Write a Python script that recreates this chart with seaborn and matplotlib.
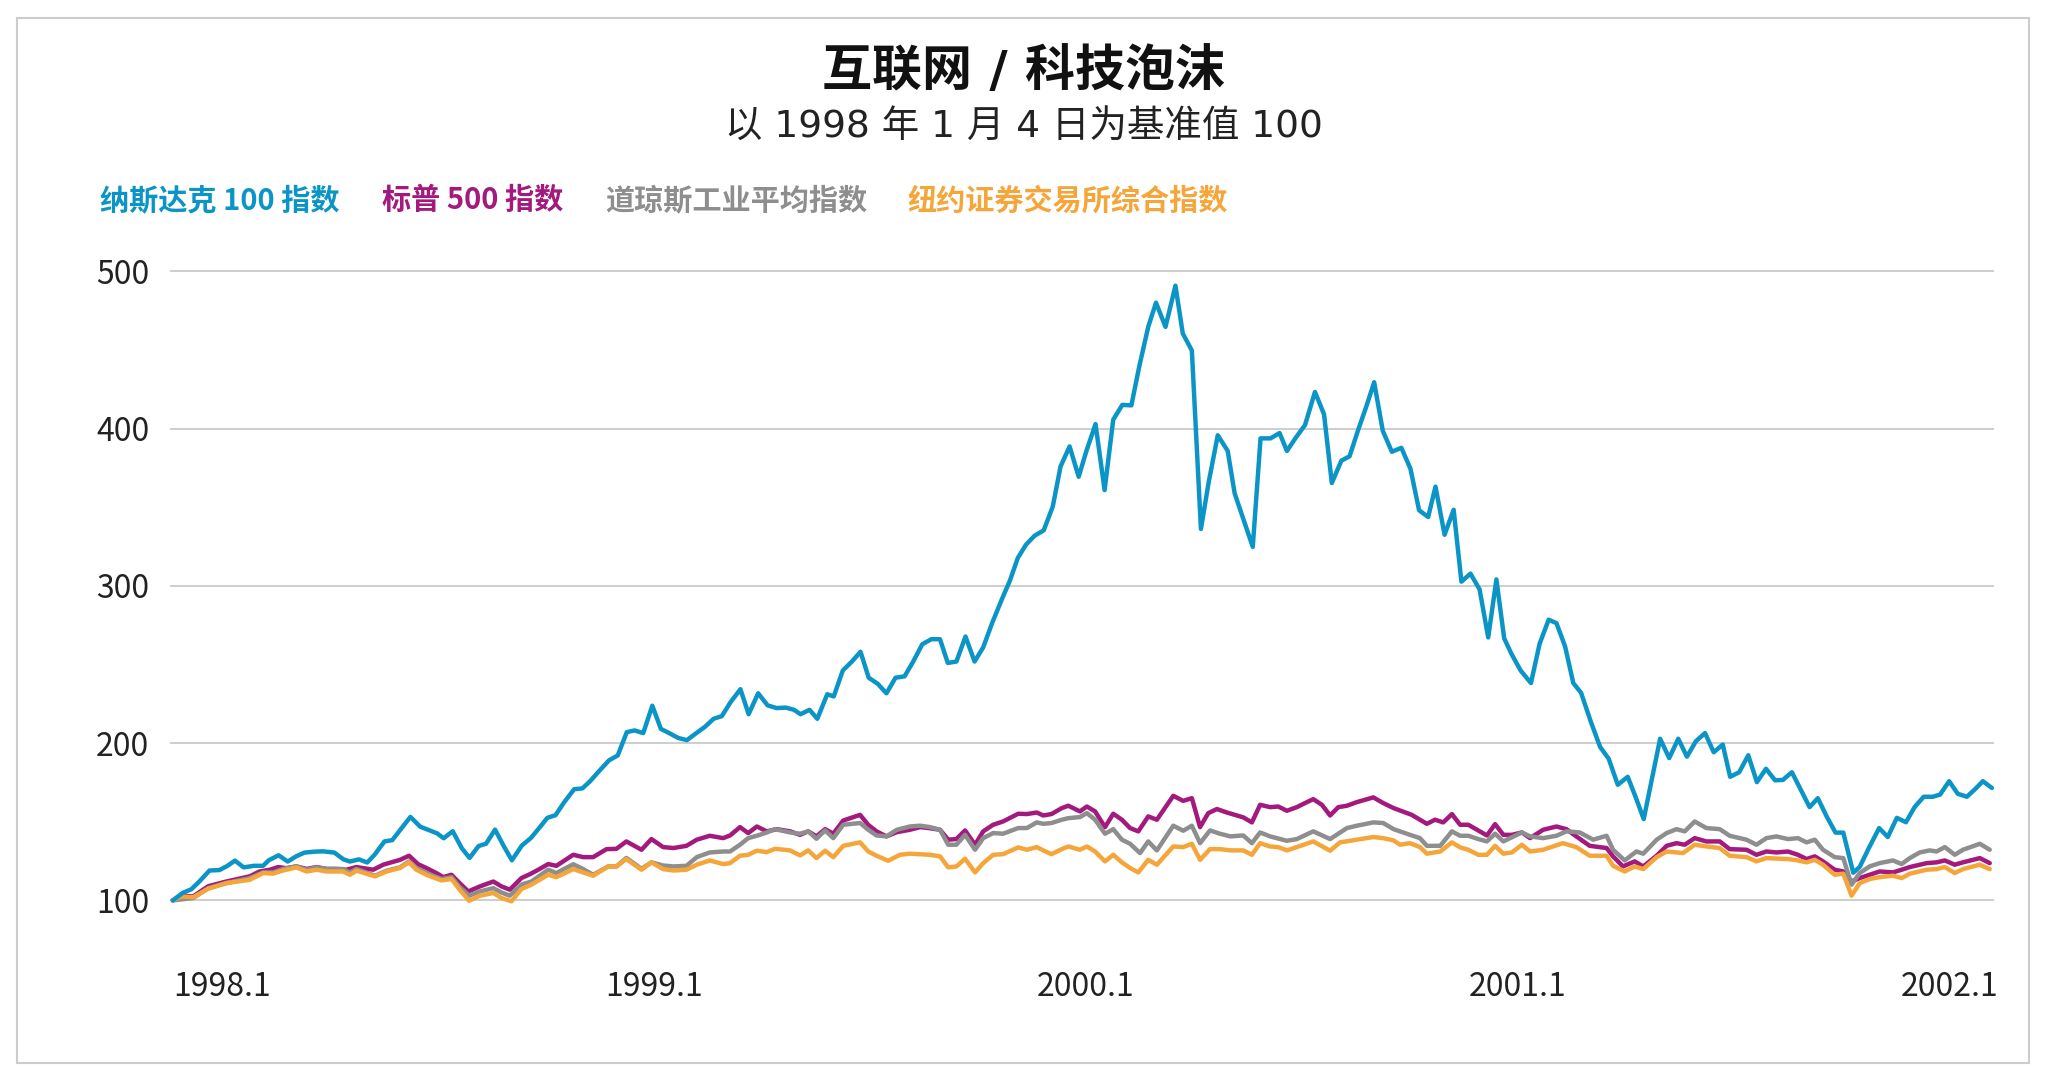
import pandas as pd
import seaborn as sns
import matplotlib.pyplot as plt
from matplotlib.patches import Rectangle

sns.set_style("white")
plt.rcParams['font.family'] = ['Noto Sans CJK SC', 'DejaVu Sans']

TITLE = '互联网 / 科技泡沫'
SUBTITLE = '以 1998 年 1 月 4 日为基准值 100'
NAMES = ['纳斯达克 100 指数', '标普 500 指数', '道琼斯工业平均指数', '纽约证券交易所综合指数']
COLORS = ['#0b95c6', '#a3197e', '#8e8e8e', '#f5a63a']
YEARS = [1998, 1999, 2000, 2001, 2002]
YEAR_LABELS = ['1998.1', '1999.1', '2000.1', '2001.1', '2002.1']
Y_TICKS = [100, 200, 300, 400, 500]

# 纳斯达克 100
ndx_t = [1998.000, 1998.023, 1998.043, 1998.061, 1998.085, 1998.108, 1998.126, 1998.144, 1998.164, 1998.188,
         1998.209, 1998.222, 1998.245, 1998.266, 1998.286, 1998.305, 1998.328, 1998.348, 1998.374, 1998.395,
         1998.410, 1998.431, 1998.450, 1998.467, 1998.490, 1998.508, 1998.529, 1998.550, 1998.573, 1998.594,
         1998.612, 1998.627, 1998.648, 1998.669, 1998.687, 1998.708, 1998.725, 1998.746, 1998.767, 1998.785,
         1998.808, 1998.829, 1998.849, 1998.867, 1998.886, 1998.906, 1998.929, 1998.948, 1998.966, 1998.987,
         1999.010, 1999.030, 1999.051, 1999.069, 1999.089, 1999.110, 1999.130, 1999.149, 1999.170, 1999.190,
         1999.211, 1999.232, 1999.252, 1999.271, 1999.291, 1999.314, 1999.333, 1999.355, 1999.377, 1999.398,
         1999.419, 1999.438, 1999.453, 1999.474, 1999.492, 1999.515, 1999.530, 1999.551, 1999.572, 1999.592,
         1999.611, 1999.632, 1999.652, 1999.673, 1999.694, 1999.714, 1999.735, 1999.756, 1999.776, 1999.794,
         1999.814, 1999.835, 1999.856, 1999.876, 1999.897, 1999.918, 1999.938, 1999.956, 1999.975, 1999.995,
         2000.016, 2000.037, 2000.055, 2000.076, 2000.097, 2000.115, 2000.136, 2000.157, 2000.177, 2000.198,
         2000.219, 2000.237, 2000.258, 2000.276, 2000.298, 2000.321, 2000.338, 2000.359, 2000.380, 2000.398,
         2000.419, 2000.442, 2000.458, 2000.479, 2000.500, 2000.518, 2000.541, 2000.562, 2000.579, 2000.600,
         2000.621, 2000.644, 2000.665, 2000.683, 2000.705, 2000.724, 2000.745, 2000.763, 2000.781, 2000.801,
         2000.822, 2000.844, 2000.865, 2000.885, 2000.906, 2000.923, 2000.944, 2000.965, 2000.983, 2001.004,
         2001.025, 2001.045, 2001.064, 2001.082, 2001.099, 2001.120, 2001.144, 2001.164, 2001.185, 2001.203,
         2001.223, 2001.242, 2001.260, 2001.283, 2001.304, 2001.324, 2001.345, 2001.368, 2001.386, 2001.405,
         2001.426, 2001.443, 2001.464, 2001.485, 2001.505, 2001.526, 2001.547, 2001.567, 2001.588, 2001.605,
         2001.626, 2001.647, 2001.667, 2001.688, 2001.709, 2001.727, 2001.748, 2001.769, 2001.789, 2001.808,
         2001.829, 2001.849, 2001.867, 2001.890, 2001.905, 2001.926, 2001.950, 2001.970, 2001.991, 2002.012,
         2002.032, 2002.053, 2002.074, 2002.091, 2002.112, 2002.132, 2002.153, 2002.172, 2002.190, 2002.211]
ndx_v = [100, 104.8, 107.1, 111.9, 119.0, 119.3, 121.9, 125.3, 121.0, 122.0,
         122.0, 125.5, 128.7, 124.7, 128.1, 130.4, 131.0, 131.2, 130.4, 126.1,
         124.7, 126.1, 124.1, 129.0, 137.5, 138.3, 145.7, 153.1, 146.8, 144.6,
         142.6, 139.5, 144.0, 133.2, 127.0, 134.6, 136.0, 145.0, 134.1, 125.5,
         134.9, 139.7, 146.3, 152.5, 154.2, 162.4, 170.7, 171.2, 175.8, 182.3,
         189.1, 192.2, 207.0, 208.1, 206.4, 223.8, 209.0, 206.4, 203.3, 201.9,
         206.2, 210.4, 215.5, 217.2, 226.0, 234.3, 218.4, 231.7, 224.0, 222.3,
         222.6, 221.2, 218.4, 221.2, 215.5, 231.1, 229.7, 246.2, 251.9, 258.1,
         241.6, 237.7, 231.7, 241.6, 242.5, 251.9, 262.9, 266.1, 266.1, 251.0,
         251.9, 267.8, 251.9, 260.9, 276.6, 290.7, 303.5, 317.7, 326.2, 331.9,
         335.3, 350.4, 375.9, 388.7, 369.4, 385.9, 402.9, 360.9, 405.7, 415.1,
         414.8, 439.2, 464.7, 480.1, 464.7, 490.9, 460.5, 449.7, 336.2, 366.0,
         395.8, 385.8, 358.9, 341.8, 324.8, 393.8, 393.8, 397.2, 385.8, 394.4,
         402.3, 423.3, 409.1, 365.4, 379.6, 382.4, 400.0, 414.2, 429.5, 398.6,
         385.3, 387.8, 374.5, 348.1, 343.8, 363.1, 332.5, 348.4, 302.7, 307.8,
         297.8, 267.2, 304.1, 266.6, 256.7, 246.2, 238.2, 263.2, 278.5, 276.3,
         261.5, 238.2, 232.0, 213.3, 197.6, 190.0, 173.5, 178.6, 165.9, 151.7,
         180.0, 202.8, 190.5, 202.8, 191.4, 201.3, 206.4, 194.2, 199.1, 178.6,
         181.5, 192.3, 175.2, 183.7, 176.4, 176.6, 181.5, 170.1, 159.3, 165.0,
         153.1, 143.1, 143.1, 117.6, 121.3, 133.2, 146.0, 140.3, 152.5, 149.7,
         159.3, 165.9, 165.9, 167.3, 175.8, 167.8, 165.9, 170.7, 175.8, 171.5]

# 标普 500
spx_t = [1998.000, 1998.024, 1998.047, 1998.082, 1998.124, 1998.178, 1998.201, 1998.225, 1998.244, 1998.263,
         1998.286, 1998.310, 1998.333, 1998.356, 1998.379, 1998.402, 1998.425, 1998.464, 1998.487, 1998.526,
         1998.547, 1998.568, 1998.587, 1998.610, 1998.626, 1998.645, 1998.664, 1998.684, 1998.711, 1998.742,
         1998.761, 1998.780, 1998.807, 1998.827, 1998.846, 1998.869, 1998.888, 1998.927, 1998.950, 1998.973,
         1999.004, 1999.027, 1999.050, 1999.085, 1999.108, 1999.135, 1999.159, 1999.189, 1999.213, 1999.243,
         1999.274, 1999.290, 1999.313, 1999.332, 1999.352, 1999.375, 1999.398, 1999.429, 1999.452, 1999.471,
         1999.490, 1999.510, 1999.529, 1999.552, 1999.591, 1999.610, 1999.629, 1999.652, 1999.676, 1999.706,
         1999.730, 1999.753, 1999.776, 1999.795, 1999.814, 1999.834, 1999.857, 1999.876, 1999.899, 1999.922,
         1999.957, 1999.977, 2000.000, 2000.015, 2000.034, 2000.058, 2000.073, 2000.100, 2000.116, 2000.135,
         2000.158, 2000.177, 2000.197, 2000.216, 2000.235, 2000.258, 2000.278, 2000.316, 2000.339, 2000.359,
         2000.378, 2000.397, 2000.417, 2000.440, 2000.478, 2000.498, 2000.517, 2000.540, 2000.559, 2000.579,
         2000.602, 2000.621, 2000.640, 2000.660, 2000.679, 2000.698, 2000.718, 2000.741, 2000.779, 2000.802,
         2000.826, 2000.868, 2000.903, 2000.922, 2000.941, 2000.961, 2000.980, 2000.999, 2001.022, 2001.042,
         2001.061, 2001.080, 2001.100, 2001.123, 2001.142, 2001.172, 2001.203, 2001.226, 2001.249, 2001.280,
         2001.319, 2001.334, 2001.357, 2001.384, 2001.404, 2001.435, 2001.458, 2001.481, 2001.500, 2001.523,
         2001.550, 2001.581, 2001.604, 2001.643, 2001.666, 2001.689, 2001.712, 2001.739, 2001.762, 2001.782,
         2001.801, 2001.820, 2001.847, 2001.867, 2001.886, 2001.905, 2001.928, 2001.951, 2001.982, 2002.002,
         2002.021, 2002.060, 2002.083, 2002.102, 2002.125, 2002.144, 2002.183, 2002.206]
spx_v = [100, 103, 102.5, 109, 112, 115.3, 118.4, 119.5, 121.2, 120.5,
         121.6, 120, 121.2, 120, 120, 119.5, 121.2, 119.5, 122.7, 125.8,
         128.4, 123, 120.6, 117.4, 114.8, 116.3, 111, 105.7, 108.9, 112,
         108.9, 106.8, 114.2, 116.7, 119.5, 123.1, 122, 129, 127.5, 127.5,
         132.6, 132.8, 137.5, 132.2, 139, 133.9, 133.3, 134.7, 138.6, 141.1,
         139.6, 141.3, 146.6, 142.8, 147, 143.9, 145.3, 143.9, 141.7, 143.9,
         140.7, 145.3, 142.4, 150.8, 154.4, 148, 143.9, 140.7, 143.4, 144.9,
         146.6, 145.9, 144.9, 138.6, 139, 144.5, 135.4, 143.9, 148.1, 150.2,
         155.1, 154.9, 155.9, 154, 154.9, 158.7, 160.2, 156.6, 159.7, 156.6,
         146.6, 155.1, 151.3, 146, 143.9, 153.4, 151.3, 166.5, 163.3, 165,
         146.6, 155.5, 158.1, 155.9, 152.8, 149.6, 160.8, 159.3, 159.7, 157,
         159.3, 161.9, 164.4, 160.8, 154, 159.3, 160.2, 162.5, 165.5, 161.9,
         158.7, 154.4, 148.7, 151.3, 149.6, 154.9, 148.1, 148.1, 144.5, 141.3,
         148.5, 141.7, 141.7, 143.2, 139.6, 144.9, 147, 145.3, 140.7, 134.7,
         133.3, 128, 121.6, 124.8, 121.6, 128.4, 134.7, 136.4, 135.4, 139.6,
         137.5, 137.5, 132.6, 132.2, 129, 131.1, 130.5, 131.1, 129, 126.3,
         128, 124.8, 119.5, 118.4, 112, 114.2, 116.3, 118.4, 117.8, 119.5,
         121.2, 123.7, 124.2, 125.4, 122.7, 124.2, 126.9, 123.7]

# 道琼斯工业平均
dji_t = [1998.000, 1998.047, 1998.082, 1998.124, 1998.178, 1998.209, 1998.232, 1998.255, 1998.286, 1998.310,
         1998.333, 1998.356, 1998.394, 1998.410, 1998.425, 1998.468, 1998.495, 1998.526, 1998.547, 1998.564,
         1998.587, 1998.622, 1998.645, 1998.664, 1998.686, 1998.711, 1998.742, 1998.761, 1998.780, 1998.807,
         1998.830, 1998.869, 1998.888, 1998.927, 1998.950, 1998.973, 1999.008, 1999.027, 1999.050, 1999.085,
         1999.108, 1999.135, 1999.159, 1999.189, 1999.213, 1999.243, 1999.274, 1999.290, 1999.313, 1999.332,
         1999.352, 1999.375, 1999.394, 1999.429, 1999.452, 1999.471, 1999.490, 1999.510, 1999.529, 1999.552,
         1999.591, 1999.610, 1999.629, 1999.652, 1999.676, 1999.706, 1999.730, 1999.753, 1999.776, 1999.795,
         1999.814, 1999.834, 1999.857, 1999.876, 1999.899, 1999.922, 1999.957, 1999.977, 2000.000, 2000.015,
         2000.034, 2000.058, 2000.073, 2000.100, 2000.116, 2000.135, 2000.158, 2000.177, 2000.197, 2000.216,
         2000.239, 2000.258, 2000.278, 2000.316, 2000.339, 2000.359, 2000.378, 2000.401, 2000.424, 2000.448,
         2000.478, 2000.498, 2000.517, 2000.540, 2000.579, 2000.602, 2000.640, 2000.679, 2000.718, 2000.741,
         2000.779, 2000.802, 2000.826, 2000.864, 2000.887, 2000.903, 2000.934, 2000.961, 2000.980, 2000.999,
         2001.022, 2001.042, 2001.061, 2001.080, 2001.123, 2001.142, 2001.172, 2001.203, 2001.226, 2001.257,
         2001.288, 2001.319, 2001.334, 2001.361, 2001.388, 2001.404, 2001.435, 2001.458, 2001.481, 2001.500,
         2001.523, 2001.550, 2001.581, 2001.604, 2001.643, 2001.666, 2001.689, 2001.712, 2001.739, 2001.762,
         2001.782, 2001.801, 2001.820, 2001.847, 2001.867, 2001.886, 2001.905, 2001.928, 2001.951, 2001.982,
         2002.002, 2002.021, 2002.044, 2002.067, 2002.083, 2002.102, 2002.125, 2002.144, 2002.183, 2002.206]
dji_v = [100, 101.5, 107.8, 111, 114.2, 117.8, 117.8, 120, 121.6, 119.5,
         121, 120, 120, 117.8, 120, 115.7, 118.9, 121, 124.8, 120.6,
         117.4, 113.6, 114.8, 108.5, 103, 105.7, 107.8, 105, 103, 110,
         112, 119.5, 117.4, 123, 119.9, 116.3, 121.6, 121.6, 127, 120.1,
         124.2, 122.2, 121.6, 122, 127.5, 130.5, 131.1, 131.1, 135.4, 139.6,
         141.1, 143.2, 145.3, 143.2, 142.4, 143.9, 139.2, 144.5, 139.6, 148.1,
         149.2, 144.9, 141.3, 140.7, 144.9, 147, 147.5, 146.6, 144.9, 135.4,
         135.4, 141.7, 132.2, 139.6, 142.8, 142.4, 146, 146, 149.6, 148.7,
         149.2, 151.3, 152.3, 153, 155.5, 151.3, 142.4, 145.3, 138.6, 136,
         130.1, 137.5, 131.8, 147.5, 144.3, 147.5, 136.4, 144.5, 142.4, 140.7,
         141.3, 136.4, 143.2, 140.7, 137.9, 139, 143.9, 139, 146, 147.5,
         149.6, 149.2, 145.3, 141.7, 139.6, 134.7, 134.7, 143.9, 141.1, 141.1,
         139, 137.5, 142.4, 137.5, 143.2, 140.7, 139.6, 141.1, 143.9, 143.2,
         138.6, 141.1, 132.2, 125.4, 131.1, 129.7, 138.6, 142.8, 145.3, 143.9,
         150.2, 146, 145.3, 141.1, 138.6, 135.4, 139.6, 140.7, 139, 139.6,
         136.9, 138.6, 132.2, 127.5, 126.9, 110, 117.4, 121.6, 123.7, 125.4,
         123.1, 126.9, 130.5, 131.8, 131.1, 133.9, 129, 132.2, 136, 132.2]

# 纽约证券交易所综合
nya_t = [1998.000, 1998.020, 1998.047, 1998.082, 1998.124, 1998.178, 1998.209, 1998.232, 1998.255, 1998.286,
         1998.310, 1998.333, 1998.356, 1998.394, 1998.410, 1998.425, 1998.468, 1998.495, 1998.526, 1998.547,
         1998.564, 1998.587, 1998.622, 1998.645, 1998.664, 1998.686, 1998.711, 1998.742, 1998.761, 1998.784,
         1998.807, 1998.830, 1998.869, 1998.888, 1998.927, 1998.950, 1998.973, 1999.008, 1999.027, 1999.050,
         1999.085, 1999.108, 1999.135, 1999.159, 1999.189, 1999.213, 1999.243, 1999.274, 1999.290, 1999.313,
         1999.332, 1999.352, 1999.375, 1999.394, 1999.429, 1999.452, 1999.471, 1999.490, 1999.510, 1999.529,
         1999.552, 1999.591, 1999.610, 1999.629, 1999.656, 1999.683, 1999.706, 1999.753, 1999.776, 1999.795,
         1999.814, 1999.834, 1999.857, 1999.876, 1999.899, 1999.922, 1999.957, 1999.977, 2000.000, 2000.015,
         2000.034, 2000.058, 2000.073, 2000.100, 2000.116, 2000.135, 2000.158, 2000.177, 2000.197, 2000.216,
         2000.235, 2000.258, 2000.278, 2000.316, 2000.339, 2000.359, 2000.378, 2000.401, 2000.424, 2000.448,
         2000.478, 2000.498, 2000.517, 2000.540, 2000.559, 2000.579, 2000.602, 2000.640, 2000.679, 2000.702,
         2000.741, 2000.779, 2000.802, 2000.826, 2000.841, 2000.864, 2000.887, 2000.903, 2000.934, 2000.961,
         2000.980, 2000.999, 2001.022, 2001.042, 2001.061, 2001.080, 2001.100, 2001.123, 2001.142, 2001.172,
         2001.218, 2001.249, 2001.280, 2001.319, 2001.334, 2001.361, 2001.384, 2001.404, 2001.435, 2001.458,
         2001.496, 2001.523, 2001.550, 2001.581, 2001.604, 2001.643, 2001.666, 2001.689, 2001.739, 2001.762,
         2001.782, 2001.801, 2001.820, 2001.847, 2001.867, 2001.886, 2001.905, 2001.928, 2001.951, 2001.982,
         2002.002, 2002.021, 2002.060, 2002.083, 2002.102, 2002.125, 2002.144, 2002.183, 2002.206]
nya_v = [100, 102.5, 102, 107.4, 111, 113.1, 117.4, 117, 119, 121,
         118.4, 119.5, 118.4, 118.4, 116.3, 118.9, 115.3, 118.4, 120.6, 124.2,
         119.5, 116.3, 112.7, 113.6, 106.8, 99.8, 103, 104.7, 101.5, 99.4,
         107.2, 110, 116.3, 114.8, 119.9, 117.8, 115.7, 121.6, 121.6, 126.3,
         119.5, 124.2, 119.9, 119, 119.5, 122.7, 125.4, 123.1, 123.7, 128.4,
         129, 131.6, 130.7, 132.8, 131.8, 128.6, 131.8, 126.9, 131.6, 127.5,
         134.7, 136.9, 131.1, 128.4, 125.2, 129, 129.7, 129, 128, 121,
         121.6, 126.5, 117.8, 123.7, 129, 129.4, 133.7, 132.2, 133.9, 131.8,
         129.4, 132.6, 134.3, 132.2, 134.3, 131.1, 124.8, 129, 124.2, 120.6,
         117.8, 125.8, 122.7, 134.3, 133.9, 136, 125.8, 132.6, 132.6, 131.8,
         131.8, 129, 136.4, 134.3, 133.9, 131.8, 133.9, 137.5, 131.6, 136.9,
         138.6, 140.3, 139.6, 138.1, 135.4, 136.4, 133.9, 129.7, 131.1, 136.9,
         133.7, 132.2, 129, 129, 134.7, 129.7, 130.5, 135.4, 131.1, 132.2,
         136.4, 133.9, 128.4, 128.4, 122, 118.4, 121.6, 119.9, 127.5, 131.1,
         130.1, 135.4, 134.3, 133.3, 128.4, 127.5, 124.8, 126.9, 126.3, 125.4,
         124.2, 125.8, 122.7, 116.3, 117, 103, 111, 113.6, 114.8, 115.7,
         114.2, 117, 119.5, 119.9, 121.2, 117.4, 119.9, 122.7, 119.9]

series_t = [ndx_t, spx_t, dji_t, nya_t]
series_v = [ndx_v, spx_v, dji_v, nya_v]
df = pd.concat([pd.DataFrame({'t': t, 'v': v, 'index': name})
                for name, t, v in zip(NAMES, series_t, series_v)])


def main():
    fig = plt.figure(figsize=(20.48, 10.88), dpi=100)
    fig.patches.append(Rectangle((0.0083, 0.023), 0.9824, 0.9605, transform=fig.transFigure,
                                 fill=False, edgecolor='#cccccc', linewidth=1.5))

    ax = fig.add_axes([0.0830, 0.1652, 0.8906, 0.5926])
    # 绘制顺序: 标普、道琼斯、纽交所、纳斯达克(最上层)
    sns.lineplot(data=df, x='t', y='v', hue='index',
                 hue_order=[NAMES[1], NAMES[2], NAMES[3], NAMES[0]],
                 palette=dict(zip(NAMES, COLORS)), linewidth=3.2,
                 estimator=None, legend=False, ax=ax)

    ax.set_xlim(1997.9935, 2002.2157)
    ax.set_ylim(95, 505)
    ax.set_yticks(Y_TICKS)
    ax.set_xticks(YEARS)
    ax.set_xticklabels(YEAR_LABELS, ha='left')
    ax.set_xlabel('')
    ax.set_ylabel('')
    ax.grid(axis='y', color='#c6c6c6', linewidth=1.2)
    ax.grid(axis='x', visible=False)
    sns.despine(ax=ax, left=True, bottom=True)
    ax.tick_params(axis='both', length=0, labelsize=23, labelcolor='#222222')
    ax.tick_params(axis='y', pad=15)
    ax.tick_params(axis='x', pad=45)

    latin_first = ['DejaVu Sans', 'Noto Sans CJK SC']
    fig.text(0.5, 0.934, TITLE, ha='center', va='center', fontsize=36,
             fontweight='bold', color='#111111', family=latin_first)
    fig.text(0.5, 0.883, SUBTITLE, ha='center', va='center', fontsize=27,
             color='#222222', family=latin_first)

    for x, name, color in zip([0.0486, 0.1866, 0.2954, 0.4431], NAMES, COLORS):
        fig.text(x, 0.816, name, ha='left', va='center', fontsize=21,
                 fontweight='bold', color=color)

    fig.savefig('out.png', dpi=100)


if __name__ == '__main__':
    main()
